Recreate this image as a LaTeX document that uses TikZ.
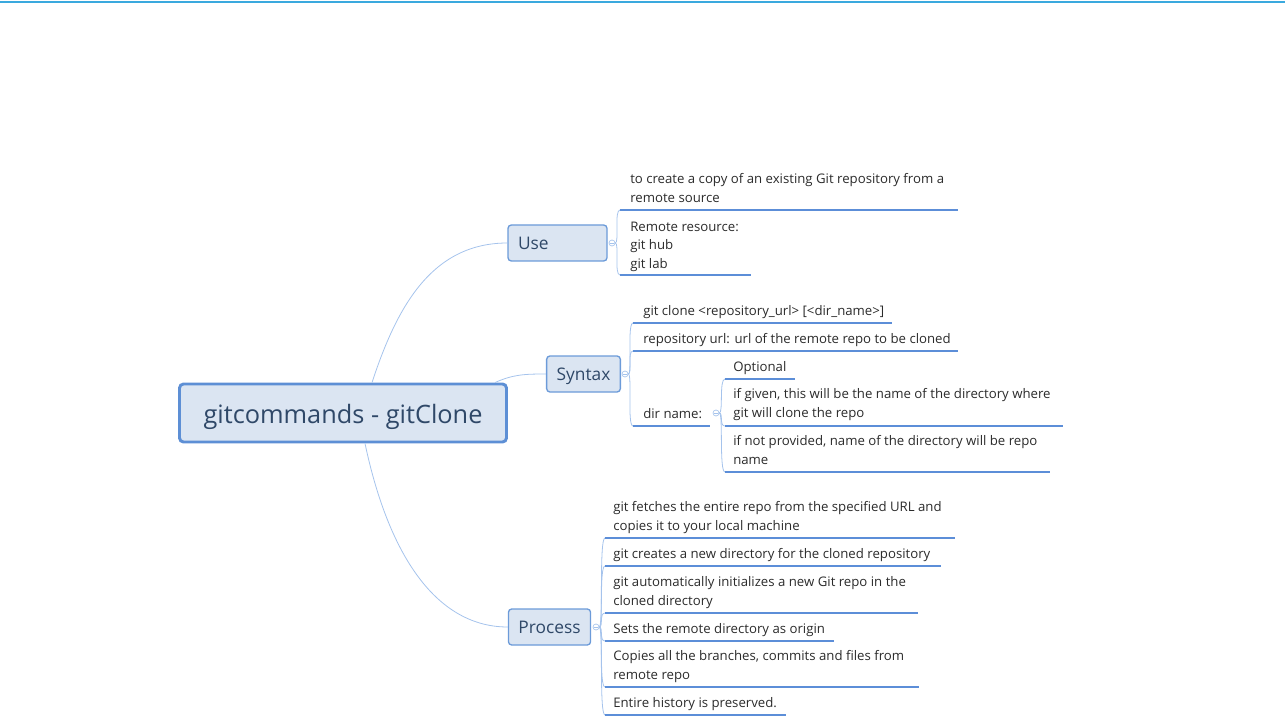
\documentclass[tikz,border=0pt]{standalone}
\usepackage{fontspec}
\setmainfont{Open Sans}
\definecolor{topline}{HTML}{3AA9DE}
\definecolor{boxfill}{HTML}{DBE5F2}
\definecolor{boxline}{HTML}{6C9BD9}
\definecolor{rootline}{HTML}{5D8FD5}
\definecolor{boxtext}{HTML}{2F4868}
\definecolor{uline}{HTML}{5C8ED8}
\definecolor{branch}{HTML}{A5C3EC}
\definecolor{leaftext}{HTML}{2B2B2B}
\tikzset{
  root/.style={draw=rootline, fill=boxfill, line width=2.2pt, rounded corners=3pt,
    text=boxtext, font=\fontsize{19}{22}\selectfont, inner xsep=18pt,
    text height=18.5pt, text depth=3.5pt, minimum height=43.5pt},
  topic/.style={draw=boxline, fill=boxfill, line width=1pt, rounded corners=2.5pt,
    text=boxtext, font=\fontsize{13}{15}\selectfont, inner xsep=7.5pt,
    text height=11.5pt, text depth=2.1pt, minimum height=27pt},
  leaf/.style={anchor=base west, inner sep=0pt, align=left, text=leaftext,
    font=\fontsize{9.9}{13.9}\selectfont},
  marker/.style={circle, draw=branch, fill=white, line width=0.5pt,
    minimum size=4.5pt, inner sep=0pt,
    path picture={\draw[branch, line width=0.4pt]
      ([xshift=1pt]path picture bounding box.west) --
      ([xshift=-1pt]path picture bounding box.east);}},
  link/.style={draw=branch, line width=0.6pt},
  under/.style={draw=uline, line width=1.4pt},
  brace/.style={draw=branch, line width=0.6pt}
}
\begin{document}
\begin{tikzpicture}[x=0.75pt, y=-0.75pt]
  \useasboundingbox (0,0) rectangle (1285,727);
  \draw[topline, line width=1.5pt] (0,2) -- (1285,2);

  % main topics
  \node[root] (root) at (343,413) {gitcommands - gitClone};
  \node[topic, text width=59.25pt] (use) at (557.5,243) {Use};
  \node[topic] (syntax) at (583.5,374) {Syntax};
  \node[topic] (process) at (549.5,627) {Process};

  \draw[link] ([xshift=21.75pt]root.north) .. controls +(24,-73) and +(-77,0) .. (use.west);
  \draw[link] ([xshift=237.75pt]root.north west) .. controls +(18,-8) and +(-22,0) .. (syntax.west);
  \draw[link] ([xshift=16.5pt]root.south) .. controls +(25,118) and +(-68,0) .. (process.west);

  \node[marker] (muse) at (612,243) {};
  \node[marker] (msyntax) at (625,374) {};
  \node[marker] (mprocess) at (596,627) {};

  % use
  \node[leaf] (use1) at (630,202.5) {to create a copy of an existing Git repository from a\\remote source};
  \node[leaf] (use2) at (630,268.5) {Remote resource:\\git hub\\git lab};
  \coordinate (u1a) at (620,210); \coordinate (u1b) at (958,210);
  \coordinate (u2a) at (620,275); \coordinate (u2b) at (751,275);

  % syntax
  \node[leaf] (syn1) at (643,315.5) {git clone <repository\_url> [<dir\_name>]};
  \node[leaf] (syn2) at (643,343.5) {repository url: url of the remote repo to be cloned};
  \node[leaf] (syn3) at (643,418.5) {dir name:};
  \coordinate (s1a) at (633,323); \coordinate (s1b) at (892,323);
  \coordinate (s2a) at (633,351); \coordinate (s2b) at (958,351);
  \coordinate (s3a) at (633,426); \coordinate (s3b) at (710,426);
  \node[marker] (mdir) at (716,413) {};

  % dir name
  \node[leaf] (dir1) at (733,371.5) {Optional};
  \node[leaf] (dir2) at (733,417.5) {if given, this will be the name of the directory where\\git will clone the repo};
  \node[leaf] (dir3) at (733,464.5) {if not provided, name of the directory will be repo\\name};
  \coordinate (d1a) at (725,379); \coordinate (d1b) at (795,379);
  \coordinate (d2a) at (725,426); \coordinate (d2b) at (1063,426);
  \coordinate (d3a) at (725,472); \coordinate (d3b) at (1050,472);

  % process
  \node[leaf] (pro1) at (613,530.5) {git fetches the entire repo from the specified URL and\\copies it to your local machine};
  \node[leaf] (pro2) at (613,558.5) {git creates a new directory for the cloned repository};
  \node[leaf] (pro3) at (613,605.5) {git automatically initializes a new Git repo in the\\cloned directory};
  \node[leaf] (pro4) at (613,633.5) {Sets the remote directory as origin};
  \node[leaf] (pro5) at (613,679.5) {Copies all the branches, commits and files from\\remote repo};
  \node[leaf] (pro6) at (613,707.5) {Entire history is preserved.};
  \coordinate (p1a) at (605,538); \coordinate (p1b) at (955,538);
  \coordinate (p2a) at (605,566); \coordinate (p2b) at (941,566);
  \coordinate (p3a) at (605,613); \coordinate (p3b) at (918,613);
  \coordinate (p4a) at (605,641); \coordinate (p4b) at (834,641);
  \coordinate (p5a) at (605,687); \coordinate (p5b) at (919,687);
  \coordinate (p6a) at (605,715); \coordinate (p6b) at (786,715);

  \begin{scope}[brace]
    \foreach \m/\u in {muse/u1a, muse/u2a, msyntax/s1a, msyntax/s2a, msyntax/s3a,
        mdir/d1a, mdir/d2a, mdir/d3a, mprocess/p1a, mprocess/p2a, mprocess/p3a,
        mprocess/p4a, mprocess/p5a, mprocess/p6a}
      \draw (\m.east) .. controls +(4,0) and +(-6,0) .. (\u);
  \end{scope}
  \begin{scope}[under]
    \foreach \l in {u1, u2, s1, s2, s3, d1, d2, d3, p1, p2, p3, p4, p5, p6}
      \draw (\l a) -- (\l b);
  \end{scope}
\end{tikzpicture}
\end{document}
